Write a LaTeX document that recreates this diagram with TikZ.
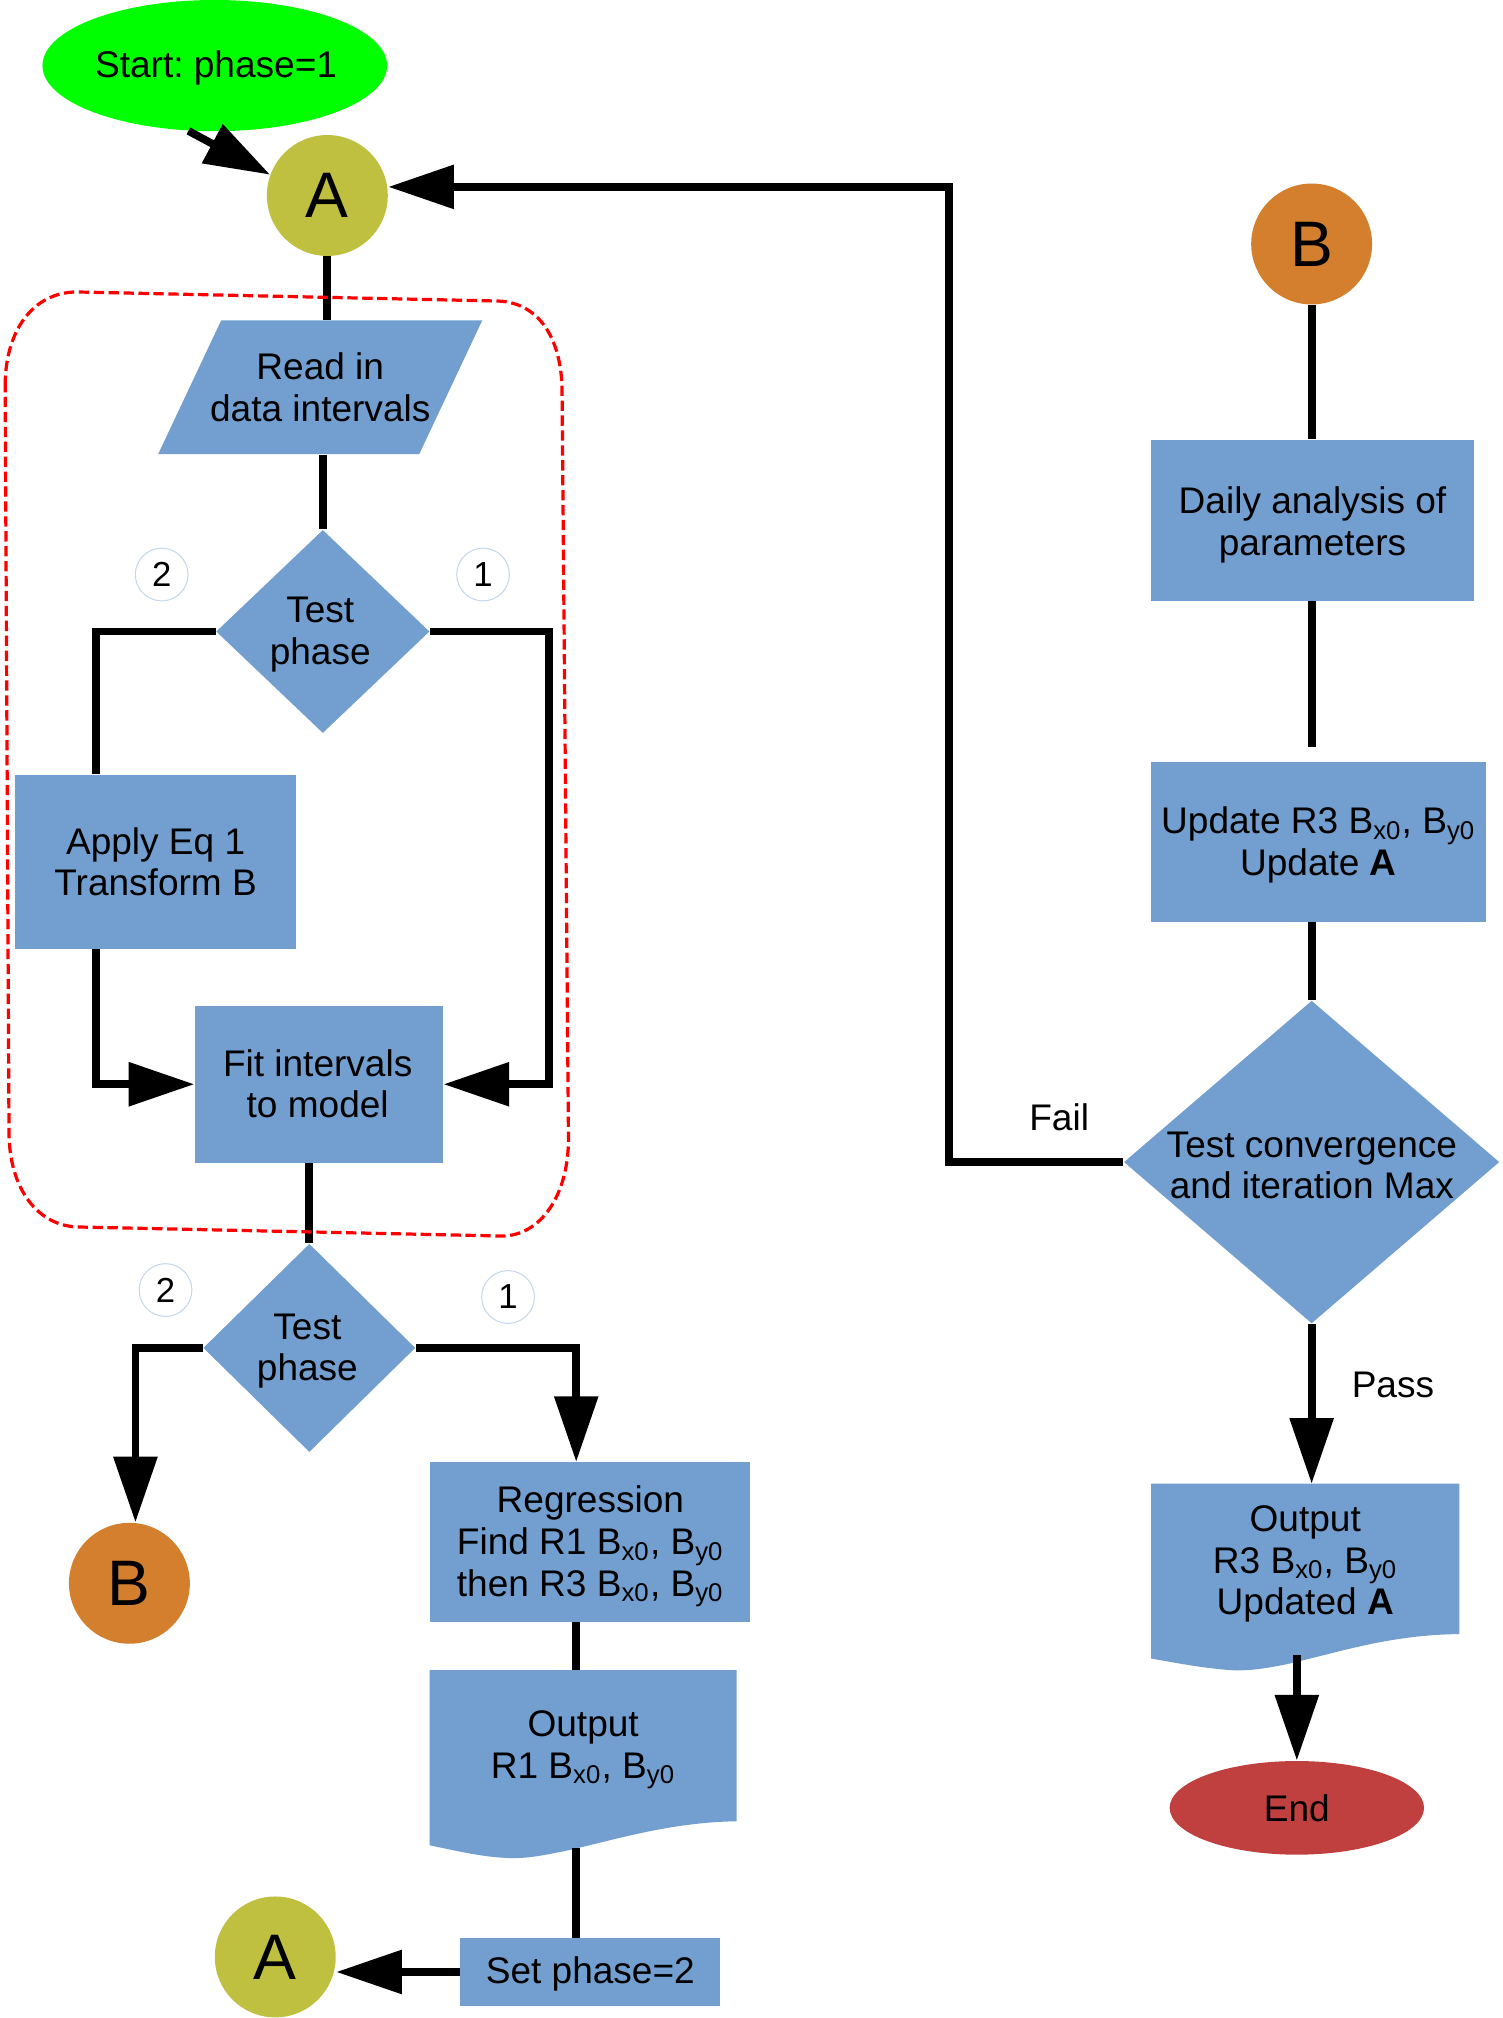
\documentclass[tikz,border=0pt]{standalone}
\usepackage{fontspec}
\setmainfont{Liberation Sans}
\usetikzlibrary{shapes.geometric,arrows.meta,calc}
\definecolor{cgreen}{RGB}{0,255,0}
\definecolor{colive}{RGB}{191,191,64}
\definecolor{corange}{RGB}{211,127,45}
\definecolor{cblue}{RGB}{114,159,207}
\definecolor{cred}{RGB}{192,64,64}
\definecolor{cring}{RGB}{198,214,236}
\frenchspacing
\begin{document}
\begin{tikzpicture}[x=0.5pt,y=-0.5pt,
 txt/.style={font=\fontsize{14.4}{16.2}\selectfont, align=center, inner sep=0pt},
 box/.style={rectangle, fill=cblue, inner sep=0pt},
 conn/.style={line width=3pt},
 arr/.style={line width=3pt, -{Triangle[length=25.5pt,width=16.5pt]}},
 letter/.style={circle, inner sep=0pt, minimum size=47pt, font=\fontsize{25}{30}\selectfont},
 ring/.style={circle, draw=cring, line width=0.4pt, fill=white, minimum size=20.5pt, inner sep=0pt, font=\fontsize{13.5}{16}\selectfont},
 dia/.style={diamond, fill=cblue, inner sep=0pt},
 redbound/.style={draw=red, line width=1.25pt, dash pattern=on 4pt off 1.8pt}
]
\useasboundingbox (0,0) rectangle (1168,1569);

% ---------- left column ----------
\node[ellipse, fill=cgreen, minimum width=134pt, minimum height=51pt, inner sep=0pt] (start) at (167,51) {};
\node[txt] (startt) at (168,53) {Start: phase=1};
\node[letter, fill=colive] (A1) at (254.5,152) {A};

\fill[cblue] (172,249) -- (375,249) -- (326,353) -- (123,353) -- cycle;
\node[txt, minimum width=101.5pt, minimum height=52pt] (read) at (249,301) {Read in\\data intervals};

\node[dia, minimum width=83pt, minimum height=79pt] (test1) at (251,491) {};
\node[txt] (test1t) at (249,493.5) {Test\\phase};
\node[ring] (c2a) at (125.7,446.7) {2};
\node[ring] (c1a) at (375.6,446.7) {1};

\node[box, minimum width=109pt, minimum height=67.5pt] (apply) at (121,670) {};
\node[txt] (applyt) at (121,670) {Apply Eq 1\\Transform B};
\node[box, minimum width=96.5pt, minimum height=61pt] (fit) at (248,843) {};
\node[txt] (fitt) at (247,842.5) {Fit intervals\\to model};

\node[dia, minimum width=82.5pt, minimum height=81pt] (test2) at (240.5,1048) {};
\node[txt] (test2t) at (239,1050.5) {Test\\phase};
\node[ring] (c2b) at (128.7,1003) {2};
\node[ring] (c1b) at (395,1008.4) {1};

\node[letter, fill=corange] (B2) at (100.6,1231) {B};
\node[box, minimum width=124.5pt, minimum height=62pt] (reg) at (458.5,1199) {};
\node[txt] (regt) at (459,1202.5) {Regression\\Find R1 B\textsubscript{x0}, B\textsubscript{y0}\\then R3 B\textsubscript{x0}, B\textsubscript{y0}};

\fill[cblue] (334,1298.6) -- (572.8,1298.6) -- (572.8,1416)
  .. controls (520,1417) and (480,1430) .. (440,1439)
  .. controls (420,1443) and (410,1445) .. (396,1444.6)
  .. controls (375,1444) and (355,1439) .. (334,1434.7) -- cycle;
\node[txt] (out1) at (453.4,1360.5) {Output\\R1 B\textsubscript{x0}, B\textsubscript{y0}};
\coordinate (out1n) at (448,1298.6);
\coordinate (out1s) at (448,1437);

\node[box, minimum width=101pt, minimum height=26.4pt] (set) at (459,1533.2) {};
\node[txt] (sett) at (459,1535) {Set phase=2};
\node[letter, fill=colive] (A2) at (214,1521.5) {A};

% ---------- right column ----------
\node[letter, fill=corange] (B1) at (1019.8,189.7) {B};
\node[box, minimum width=125.5pt, minimum height=62.5pt] (daily) at (1020.5,404.5) {};
\node[txt] (dailyt) at (1020.5,408) {Daily analysis of\\parameters};
\node[box, minimum width=130pt, minimum height=62pt] (update) at (1025,654.6) {};
\node[txt] (updatet) at (1025,657) {Update R3 B\textsubscript{x0}, B\textsubscript{y0}\\Update \textbf{A}};
\node[dia, minimum width=146pt, minimum height=125.5pt] (conv) at (1019.8,903.5) {};
\node[txt] (convt) at (1020,906) {Test convergence\\and iteration Max};

\fill[cblue] (895,1153.6) -- (1134.6,1153.6) -- (1134.6,1270.5)
  .. controls (1080,1271) and (1040,1285) .. (1000,1294)
  .. controls (980,1298) and (970,1299) .. (958,1298.6)
  .. controls (935,1297) and (915,1293) .. (895,1289.5) -- cycle;
\node[txt] (out2) at (1014.8,1216) {Output\\R3 B\textsubscript{x0}, B\textsubscript{y0}\\Updated \textbf{A}};
\coordinate (out2n) at (1019.5,1153.6);
\coordinate (out2s) at (1008.3,1287);

\node[ellipse, fill=cred, minimum width=98.9pt, minimum height=36.4pt, inner sep=0pt] (end) at (1008.3,1405.6) {};
\node[txt] (endt) at (1008.3,1405.6) {End};

\node[txt] (fail) at (823.5,868.6) {Fail};
\node[txt] (pass) at (1083,1076.4) {Pass};

% ---------- helper coordinates ----------
\coordinate (xL1) at (74.4,0);
\coordinate (xR1) at (427,0);
\coordinate (xL2) at (105.3,0);
\coordinate (xR2) at (448,0);
\coordinate (ret) at (738,145.3);

% ---------- connectors ----------
\draw[arr] (start.-112) -- (A1.160);
\draw[conn] (A1.south) -- (A1.south |- read.north);
\draw[conn] (test1.north |- read.south) -- (test1.north);
\draw[conn] (test1.west) -| (apply.north -| xL1);
\draw[arr] (apply.south -| xL1) |- (fit.west);
\draw[arr] (test1.east) -| (fit.east -| xR1) -- (fit.east);
\draw[conn] (test2.north |- fit.south) -- (test2.north);
\draw[arr] (test2.west) -| (B2.north -| xL2);
\draw[arr] (test2.east) -| (reg.north -| xR2);
\draw[conn] (reg.south -| xR2) -- (out1n);
\draw[conn] (out1s) -- (set.north -| xR2);
\draw[arr] (set.west) -- (A2.east |- set.west);

\draw[conn] (B1.south) -- (B1.south |- daily.north);
\draw[conn, shorten >=5.65pt] (daily.south -| B1) -- (update.north -| B1);
\draw[conn] (update.south -| conv.north) -- (conv.north);
\draw[arr] (conv.west) -| (ret) -- (ret -| A1.east);
\draw[arr] (conv.south) -- (conv.south |- out2n);
\draw[arr] (out2s) -- (end.north);

% ---------- red dashed boundary ----------
\draw[redbound] (4,300) .. controls (4,258) and (25,227) .. (60,227)
  -- (385,234) .. controls (418,234) and (437,262) .. (437,305)
  -- (442,885) .. controls (442,930) and (420,961) .. (390,961)
  -- (62,954) .. controls (30,954) and (7,925) .. (7,880) -- cycle;
\end{tikzpicture}
\end{document}
